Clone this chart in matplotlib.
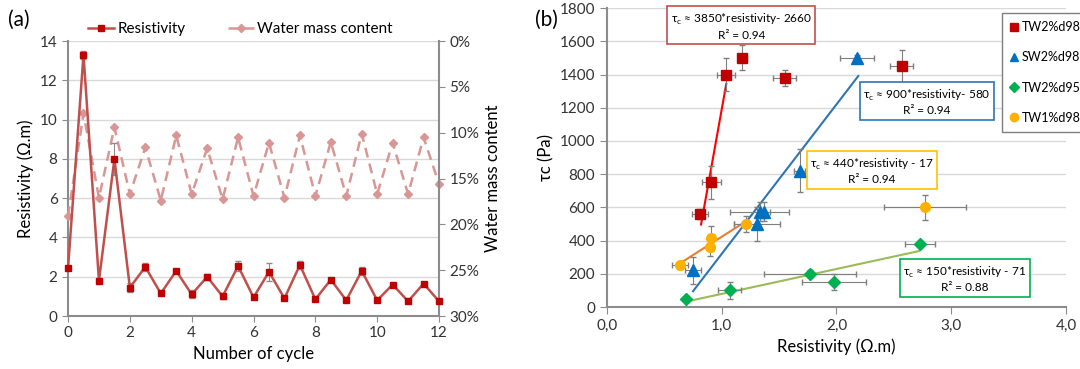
import matplotlib
matplotlib.use("Agg")
import matplotlib.pyplot as plt
from matplotlib.lines import Line2D
from matplotlib.ticker import FuncFormatter

plt.rcParams["font.family"] = ["Lato", "DejaVu Sans"]
plt.rcParams["font.size"] = 11

# ---- panel (a) data ----
cycle = [0, 0.5, 1, 1.5, 2, 2.5, 3, 3.5, 4, 4.5, 5, 5.5, 6, 6.5, 7, 7.5, 8, 8.5, 9, 9.5, 10, 10.5, 11, 11.5, 12]
resistivity = [2.45, 13.3, 1.8, 8.0, 1.45, 2.5, 1.15, 2.3, 1.1, 2.0, 1.0, 2.55, 0.95, 2.25, 0.9, 2.6, 0.85, 1.85, 0.8, 2.3, 0.8, 1.6, 0.75, 1.65, 0.75]
resistivity_err = [0.1, 0.2, 0.05, 0.8, 0.25, 0.2, 0.1, 0.1, 0.2, 0.15, 0.15, 0.25, 0.1, 0.45, 0.1, 0.2, 0.1, 0.1, 0.1, 0.2, 0.1, 0.1, 0.1, 0.1, 0.1]
water = [19.1, 7.9, 17.1, 9.4, 16.7, 11.6, 17.4, 10.3, 16.7, 11.7, 17.25, 10.5, 16.9, 11.1, 17.1, 10.3, 16.9, 11.0, 16.9, 10.1, 16.7, 11.1, 16.7, 10.5, 15.6]

# ---- panel (b) data ----
tw2d98_x = [0.81, 0.91, 1.04, 1.18, 1.55, 2.57]
tw2d98_y = [560, 750, 1400, 1500, 1380, 1450]
tw2d98_xerr = [0.07, 0.08, 0.08, 0.04, 0.1, 0.1]
tw2d98_yerr = [30, 100, 100, 75, 50, 100]

sw2d98_x = [0.75, 1.31, 1.33, 1.37, 1.68, 2.18]
sw2d98_y = [220, 500, 575, 575, 820, 1500]
sw2d98_xerr = [0.07, 0.2, 0.26, 0.05, 0.05, 0.15]
sw2d98_yerr = [80, 100, 60, 60, 130, 20]

tw2d95_x = [0.69, 1.07, 1.77, 1.98, 2.73]
tw2d95_y = [50, 100, 200, 150, 380]
tw2d95_xerr = [0.02, 0.1, 0.4, 0.28, 0.13]
tw2d95_yerr = [10, 50, 20, 50, 20]

tw1d98_x = [0.64, 0.90, 0.91, 1.21, 2.77]
tw1d98_y = [250, 360, 415, 500, 600]
tw1d98_xerr = [0.07, 0.02, 0.02, 0.1, 0.36]
tw1d98_yerr = [20, 50, 75, 50, 75]

# linear fits: slope, intercept, x range
fit_red = (3850, -2660, 0.82, 1.04)
fit_blue = (900, -580, 0.75, 2.19)
fit_orange = (440, -17, 0.63, 1.21)
fit_green = (150, -71, 0.69, 2.72)

grey = "#8c8c8c"
gridc = "#d9d9d9"

fig = plt.figure(figsize=(10.8, 3.69), dpi=100)

# ===== panel (a) =====
ax1 = fig.add_axes([0.063, 0.1436, 0.3435, 0.745])
ax1.set_xlim(0, 12)
ax1.set_ylim(0, 14)
ax1.set_xticks(range(0, 13, 2))
ax1.set_yticks(range(0, 15, 2))
ax1.grid(axis="y", color=gridc, lw=1)
ax1.set_axisbelow(True)
ax1.set_xlabel("Number of cycle", fontsize=12)
ax1.set_ylabel("Resistivity (Ω.m)", fontsize=12)
for s in ["top", "right"]:
    ax1.spines[s].set_visible(False)
for s in ["left", "bottom"]:
    ax1.spines[s].set_color(grey)
    ax1.spines[s].set_linewidth(1.5)
ax1.tick_params(colors="#333333", labelsize=11, length=4, color=grey)

ax2 = ax1.twinx()
ax2.plot(cycle, water, color="#d99694", ls="--", lw=1.8, dashes=(4, 2.5),
         marker="D", ms=4, mfc="#d99694", mec="#d99694", clip_on=False)
ax2.set_ylim(30, 0)
ax2.set_yticks(range(0, 31, 5))
ax2.yaxis.set_major_formatter(FuncFormatter(lambda v, p: f"{int(v)}%"))
ax2.set_ylabel("Water mass content", fontsize=12)
for s in ["top", "left", "bottom"]:
    ax2.spines[s].set_visible(False)
ax2.spines["right"].set_color(grey)
ax2.spines["right"].set_linewidth(1.5)
ax2.tick_params(colors="#333333", labelsize=11, length=4, color=grey)

# resistivity drawn on top of the water line
ax3a = ax1.twinx()
ax3a.set_ylim(0, 14)
ax3a.axis("off")
ax3a.errorbar(cycle, resistivity, yerr=resistivity_err, color="#c0504d", lw=1.8,
              marker="s", ms=5, mfc="#c00000", mec="#c00000", ecolor=grey,
              elinewidth=0.8, capsize=2, clip_on=False, zorder=3)

handles_a = [
    Line2D([], [], color="#c0504d", lw=1.8, marker="s", ms=5, mfc="#c00000", mec="#c00000"),
    Line2D([], [], color="#d99694", lw=1.8, ls="--", dashes=(4, 2.5), marker="D", ms=4,
           mfc="#d99694", mec="#d99694"),
]
ax1.legend(handles_a, ["Resistivity", "Water mass content"], loc="lower left",
           bbox_to_anchor=(0.03, 0.985), ncol=2, frameon=False, fontsize=11,
           handlelength=1.7, handletextpad=0.2, columnspacing=2.8, borderaxespad=0.2)
fig.text(0.007, 0.93, "(a)", fontsize=15)

# ===== panel (b) =====
ax3 = fig.add_axes([0.562, 0.168, 0.425, 0.810])
eb = dict(ecolor="#7f7f7f", elinewidth=0.8, capsize=2.5, ls="none", zorder=3)
ax3.errorbar(tw2d98_x, tw2d98_y, xerr=tw2d98_xerr, yerr=tw2d98_yerr, marker="s",
             ms=7, mfc="#c00000", mec="#c00000", **eb)
ax3.errorbar(sw2d98_x, sw2d98_y, xerr=sw2d98_xerr, yerr=sw2d98_yerr, marker="^",
             ms=8, mfc="#0070c0", mec="#0070c0", **eb)
ax3.errorbar(tw2d95_x, tw2d95_y, xerr=tw2d95_xerr, yerr=tw2d95_yerr, marker="D",
             ms=6, mfc="#00b050", mec="#00b050", **eb)
ax3.errorbar(tw1d98_x, tw1d98_y, xerr=tw1d98_xerr, yerr=tw1d98_yerr, marker="o",
             ms=7, mfc="#ffb000", mec="#ffb000", **eb)

for (a, b, x0, x1), c in [(fit_red, "#ff0000"), (fit_blue, "#2e75b6"),
                          (fit_orange, "#ed7d31"), (fit_green, "#9bbb59")]:
    ax3.plot([x0, x1], [a * x0 + b, a * x1 + b], color=c, lw=1.5, zorder=2)

ax3.set_xlim(0, 4)
ax3.set_ylim(0, 1800)
ax3.set_xticks([0, 1, 2, 3, 4])
ax3.xaxis.set_major_formatter(FuncFormatter(lambda v, p: f"{v:.1f}".replace(".", ",")))
ax3.set_yticks(range(0, 1801, 200))
ax3.grid(axis="y", color=gridc, lw=1)
ax3.set_axisbelow(True)
ax3.set_xlabel("Resistivity (Ω.m)", fontsize=12)
ax3.set_ylabel("τc (Pa)", fontsize=12)
for s in ["top", "right"]:
    ax3.spines[s].set_visible(False)
for s in ["left", "bottom"]:
    ax3.spines[s].set_color(grey)
    ax3.spines[s].set_linewidth(1.5)
ax3.tick_params(colors="#333333", labelsize=11, length=5, color=grey)

ann = [
    (1.17, 1690, "τ$_\\mathregular{c}$ ≈ 3850*resistivity- 2660\nR² = 0.94", "#c0504d"),
    (2.79, 1235, "τ$_\\mathregular{c}$ ≈ 900*resistivity- 580\nR² = 0.94", "#2e75b6"),
    (2.31, 819, "τ$_\\mathregular{c}$ ≈ 440*resistivity - 17\nR² = 0.94", "#ffc000"),
    (3.12, 169, "τ$_\\mathregular{c}$ ≈ 150*resistivity - 71\nR² = 0.88", "#00b050"),
]
for x, y, t, c in ann:
    ax3.text(x, y, t, ha="center", va="center", fontsize=8.5, linespacing=1.3,
             bbox=dict(boxstyle="square,pad=0.3", fc="white", ec=c, lw=1.2), zorder=5)

handles_b = [
    Line2D([], [], ls="none", marker="s", ms=6, mfc="#c00000", mec="#c00000"),
    Line2D([], [], ls="none", marker="^", ms=6, mfc="#0070c0", mec="#0070c0"),
    Line2D([], [], ls="none", marker="D", ms=5, mfc="#00b050", mec="#00b050"),
    Line2D([], [], ls="none", marker="o", ms=6, mfc="#ffb000", mec="#ffb000"),
]
leg = ax3.legend(handles_b, ["TW2%d98", "SW2%d98", "TW2%d95", "TW1%d98"],
                 loc="upper left", bbox_to_anchor=(0.86, 0.985), fontsize=9,
                 handlelength=0.6, handletextpad=0.3, labelspacing=1.45,
                 borderpad=0.7, borderaxespad=0, fancybox=False,
                 edgecolor="#7f7f7f", framealpha=1)
leg.get_frame().set_linewidth(1)
leg.set_clip_on(False)
fig.text(0.495, 0.93, "(b)", fontsize=15)

fig.savefig("out.png", dpi=100)
